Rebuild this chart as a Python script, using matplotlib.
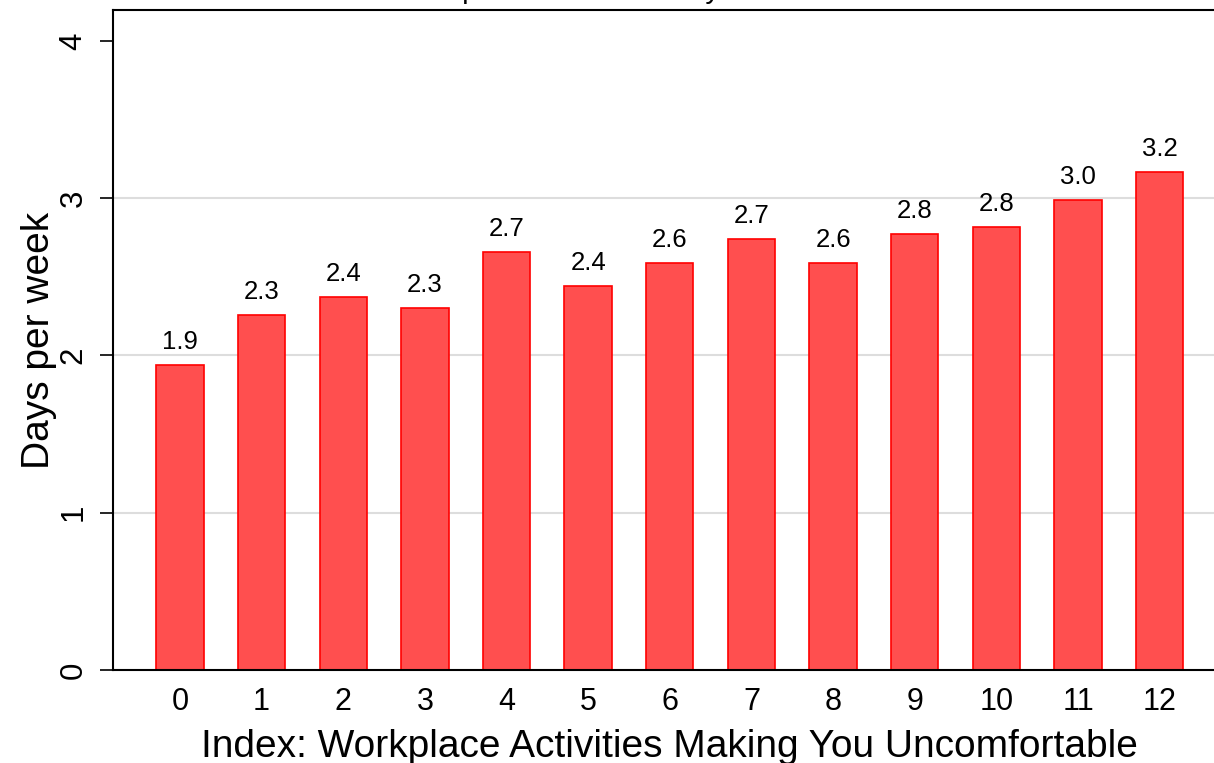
import matplotlib
matplotlib.use("Agg")
import matplotlib.pyplot as plt

plt.rcParams['font.family'] = ['Liberation Sans', 'DejaVu Sans']

categories = ["0", "1", "2", "3", "4", "5", "6", "7", "8", "9", "10", "11", "12"]
values = [1.94, 2.26, 2.37, 2.30, 2.66, 2.44, 2.59, 2.74, 2.59, 2.77, 2.82, 2.99, 3.17]
yticks = [0, 1, 2, 3, 4]
gridvals = [1, 2, 3]
title = "Expected Remote Days"
xlabel = "Index: Workplace Activities Making You Uncomfortable"
ylabel = "Days per week"

W, H = 1214, 763
fig = plt.figure(figsize=(W / 100, H / 100), dpi=100)
ax_l, ax_r, ax_b, ax_t = 113, 1225, 670, 10
ax = fig.add_axes([ax_l / W, (H - ax_b) / H, (ax_r - ax_l) / W, (ax_b - ax_t) / H])

x = list(range(len(categories)))
for v in gridvals:
    ax.axhline(v, color='#dddddd', lw=1.5, zorder=0)

bars = ax.bar(x, values, width=0.58, color='#ff4f4f', edgecolor='#ff0000', linewidth=1.2, zorder=2)
for xi, v in zip(x, values):
    ax.annotate(f"{v:.1f}", (xi, v), xytext=(0, 11.5), textcoords='offset points',
                ha='center', va='baseline', fontsize=18.5, color='black')

ax.set_xlim(-0.82, 12.8)
ax.set_ylim(0, 4.197)
ax.set_xticks(x)
ax.set_xticklabels(categories, fontsize=22)
ax.set_yticks(yticks)
ax.set_yticklabels([str(t) for t in yticks], fontsize=22.5, rotation=90, va='center')
ax.tick_params(axis='x', length=0, pad=12)
ax.tick_params(axis='y', length=9.5, width=1.2, pad=8)

for s in ['left', 'bottom', 'top']:
    ax.spines[s].set_linewidth(1.5)
    ax.spines[s].set_color('black')
ax.spines['right'].set_visible(False)

ax.set_xlabel(xlabel, fontsize=28)
ax.xaxis.label.set_va('baseline')
ax.xaxis.set_label_coords(0.5, (ax_b - 757) / (ax_b - ax_t))
ax.set_ylabel(ylabel, fontsize=28)
ax.yaxis.set_label_coords((57 - ax_l) / (ax_r - ax_l), 0.5)

fig.text(0.479, 1.003, title, ha='center', va='baseline', fontsize=21)

fig.savefig("out.png", dpi=100)
